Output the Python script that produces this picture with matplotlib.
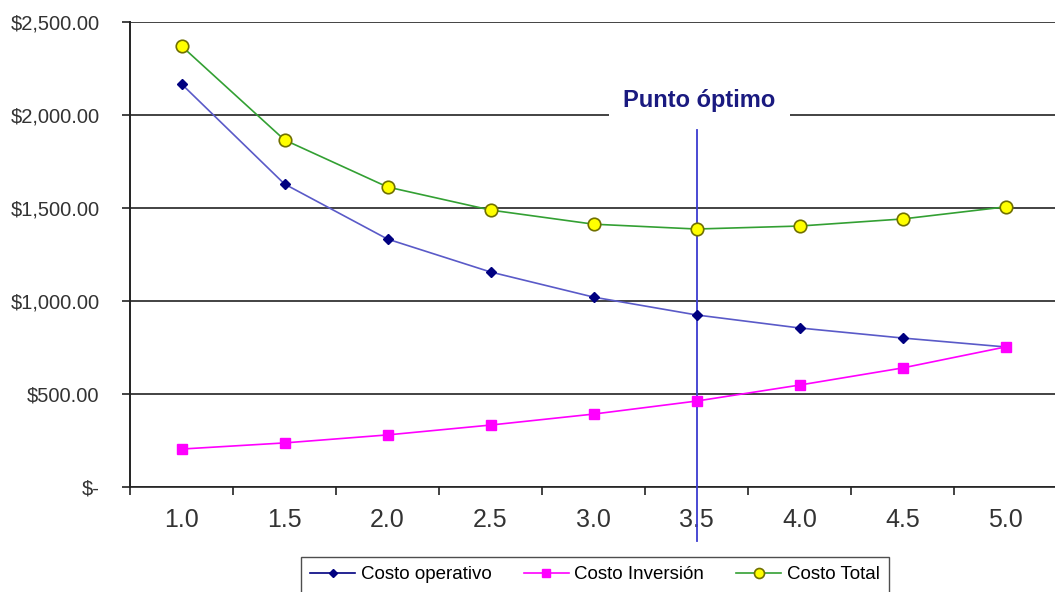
import matplotlib
matplotlib.use("Agg")
import matplotlib.pyplot as plt
from matplotlib.ticker import FuncFormatter

plt.rcParams['font.family'] = ['Liberation Sans', 'DejaVu Sans']

# diametro / categorias del eje x
categorias = ["1.0", "1.5", "2.0", "2.5", "3.0", "3.5", "4.0", "4.5", "5.0"]
costo_operativo = [2167, 1629, 1333, 1156, 1021, 925, 855, 801, 753]
costo_inversion = [204, 237, 280, 333, 392, 462, 548, 640, 753]
costo_total = [2371, 1866, 1613, 1489, 1413, 1387, 1403, 1441, 1506]
punto_optimo = "3.5"
y_ticks = [0, 500, 1000, 1500, 2000, 2500]


def fmt_dinero(v, pos):
    if v == 0:
        return "$-"
    return "${:,.2f}".format(v)


fig = plt.figure(figsize=(10.55, 5.92), dpi=100)
ax = fig.add_axes([130 / 1055, 1 - 487 / 592, 927 / 1055, 465 / 592])

x = list(range(len(categorias)))

ax.plot(x, costo_operativo, color="#5a5ac8", lw=1.2, marker="D", ms=5,
        mfc="#000080", mec="#000080", label="Costo operativo", zorder=4)
ax.plot(x, costo_inversion, color="#ff00ff", lw=1.2, marker="s", ms=7,
        mfc="#ff00ff", mec="#ff00ff", label="Costo Inversión", zorder=4)
ax.plot(x, costo_total, color="#33a033", lw=1.2, marker="o", ms=9,
        mfc="#ffff00", mec="#707000", mew=1.2, label="Costo Total", zorder=4)

# linea del punto optimo
xo = categorias.index(punto_optimo)
ax.plot([xo, xo], [-290, 1920], color="#3a3ad0", lw=1.3, clip_on=False, zorder=3)
ax.text(xo + 0.03, 2080, "Punto óptimo", ha="center", va="center", fontsize=17,
        fontweight="bold", color="#1a1a80", zorder=5,
        bbox=dict(boxstyle="square,pad=0.6", fc="white", ec="none"))

ax.set_xlim(-0.5, len(categorias) - 0.5)
ax.set_ylim(0, 2500)
ax.set_yticks(y_ticks)
ax.yaxis.set_major_formatter(FuncFormatter(fmt_dinero))
ax.grid(axis="y", color="#222222", lw=1.2)
ax.set_axisbelow(True)

# ticks entre categorias, etiquetas centradas
ax.set_xticks([i - 0.5 for i in range(len(categorias) + 1)])
ax.set_xticklabels([])
ax.set_xticks(x, minor=True)
ax.set_xticklabels(categorias, minor=True)
ax.tick_params(axis="x", which="major", length=6, width=1.2, color="#222222", direction="out")
ax.tick_params(axis="x", which="minor", length=0, pad=15, labelsize=18, labelcolor="#333333")
ax.tick_params(axis="y", length=6, width=1.2, color="#222222", pad=16,
               labelsize=14.5, labelcolor="#333333")

for s in ["top", "right"]:
    ax.spines[s].set_visible(False)
ax.spines["left"].set_color("#222222")
ax.spines["left"].set_linewidth(1.4)
ax.spines["bottom"].set_color("#222222")
ax.spines["bottom"].set_linewidth(1.2)

# leyenda abajo, el borde inferior queda fuera de la figura
leg = fig.legend(loc="upper center", bbox_to_anchor=(595 / 1055, 1 - 551 / 592),
                 ncol=3, frameon=True, fancybox=False, fontsize=13.5, markerscale=0.8,
                 handlelength=2.4, columnspacing=1.7, borderpad=0.5, handletextpad=0.3,
                 borderaxespad=0.3)
leg.get_frame().set_edgecolor("#222222")
leg.get_frame().set_linewidth(1.0)
leg.get_lines()[0].set_color("#000080")

fig.savefig("out.png", dpi=100)
